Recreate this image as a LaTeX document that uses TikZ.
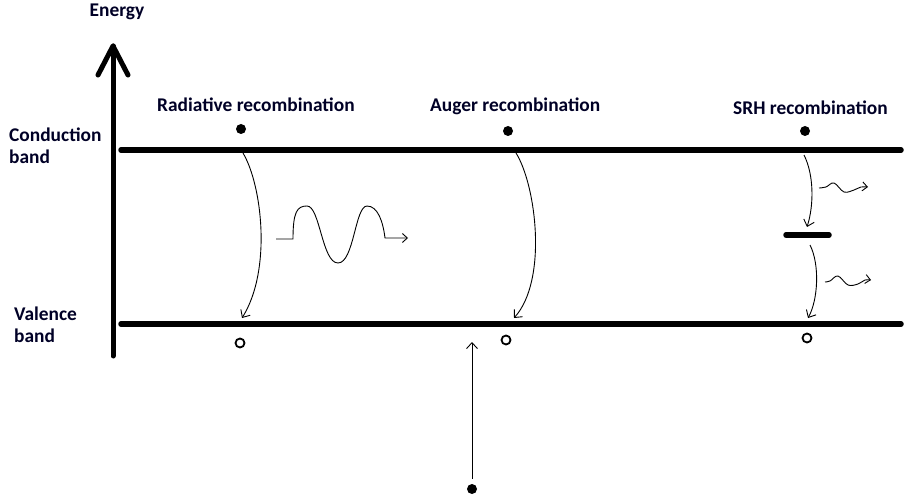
\documentclass[tikz,border=0pt]{standalone}
\usepackage{fontspec}
\setmainfont{Carlito}
\usetikzlibrary{arrows.meta}
\begin{document}
\begin{tikzpicture}[x=1pt,y=-1pt,
  lbl/.style={font=\bfseries\fontsize{19.4}{22}\selectfont, inner sep=0pt, text=black!85!blue},
  band/.style={line width=5.5pt, line cap=round},
  axisline/.style={line width=5pt, line cap=round, line join=round},
  elec/.style={circle, fill=black, minimum size=10pt, inner sep=0pt},
  hole/.style={circle, draw=black, line width=1.8pt, minimum size=9pt, inner sep=0pt},
  trans/.style={line width=0.9pt, -{Straight Barb[length=6pt,width=11pt]}},
  photon/.style={line width=0.9pt, -{Straight Barb[length=5pt,width=9pt]}}]
\useasboundingbox (0,0) rectangle (904,502);
% axis
\coordinate (axb) at (113,356);
\coordinate (axt) at (113,46);
\coordinate (axl) at (98,75);
\coordinate (axr) at (128,75);
\draw[axisline] (axb) -- (axt);
\draw[axisline] (axl) -- (axt) -- (axr);
\node[lbl, anchor=base] (energy) at (117,17) {Energy};
% bands
\coordinate (cbl) at (121,150);
\coordinate (cbr) at (901,150);
\coordinate (vbl) at (121,324);
\coordinate (vbr) at (901,324);
\draw[band] (cbl) -- (cbr);
\draw[band] (vbl) -- (vbr);
\node[lbl, anchor=base west, align=left] (cb) at (9,164) {Conduction\\band};
\node[lbl, anchor=base west, align=left] (vb) at (14,342) {Valence\\band};
% titles
\node[lbl, anchor=base west] (rad) at (157,112) {Radiative recombination};
\node[lbl, anchor=base west] (aug) at (430,112) {Auger recombination};
\node[lbl, anchor=base west] (srh) at (733,115) {SRH recombination};
% electrons and holes
\node[elec] (e1) at (241,129) {};
\node[elec] (e2) at (508,131) {};
\node[elec] (e3) at (805,131) {};
\node[elec] (e4) at (472,489) {};
\node[hole] (h1) at (240,343) {};
\node[hole] (h2) at (506,340) {};
\node[hole] (h3) at (807,338) {};
% radiative
\coordinate (r1) at (243,153);
\coordinate (r2) at (242,318);
\draw[trans] (r1) .. controls (262,185) and (272,270) .. (r2);
\coordinate (w0) at (276,239);
\coordinate (w1) at (408,238);
\draw[photon] (w0) -- (293,239) .. controls (293,212) and (297,206) .. (307,206)
  .. controls (320,206) and (322,263) .. (338,263)
  .. controls (354,263) and (355,206) .. (367,206)
  .. controls (378,206) and (383,222) .. (385,238) -- (w1);
% auger
\coordinate (a1) at (516,153);
\coordinate (a2) at (514,318);
\draw[trans] (a1) .. controls (536,185) and (548,280) .. (a2);
\draw[trans, shorten <=5pt] (e4) -- (472,342);
% SRH
\coordinate (trapl) at (786,235);
\coordinate (trapr) at (829,235);
\draw[band] (trapl) -- (trapr);
\coordinate (s1) at (804,155);
\coordinate (s2) at (807,227);
\coordinate (s3) at (810,245);
\coordinate (s4) at (808,318);
\draw[trans] (s1) .. controls (814,175) and (814,205) .. (s2);
\draw[trans] (s3) .. controls (820,265) and (818,300) .. (s4);
\draw[photon] plot[smooth, tension=0.6] coordinates {(819,188) (826,187) (834,183) (844,192) (854,190) (861,187) (868,187)};
\draw[photon] plot[smooth, tension=0.6] coordinates {(825,282) (830,281) (838,276) (848,285) (858,284) (865,280) (871,280)};
\end{tikzpicture}
\end{document}
